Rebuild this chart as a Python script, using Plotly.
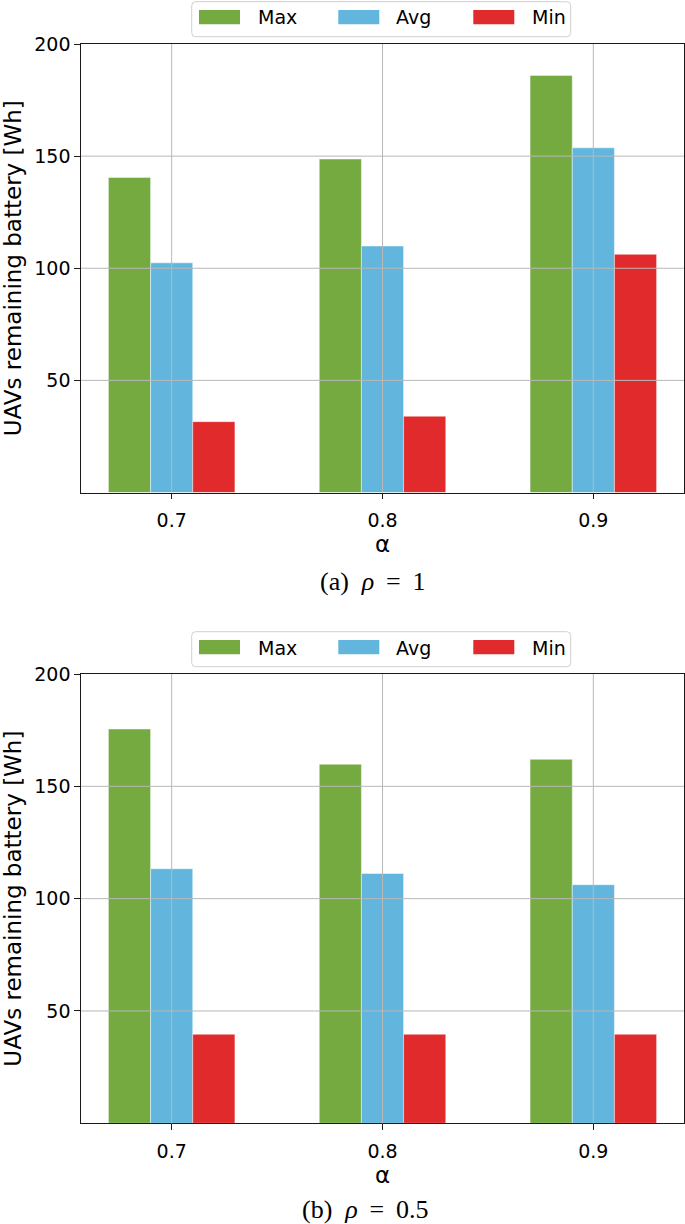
import plotly.graph_objects as go

# ---------------- data ----------------
alpha_labels = ["0.7", "0.8", "0.9"]
positions = [0, 1, 2]
series_names = ["Max", "Avg", "Min"]
series_colors = ["#75aa41", "#62b6dd", "#e02a2b"]

rho1_max = [140.5, 148.7, 186.0]
rho1_avg = [102.4, 109.9, 153.7]
rho1_min = [31.6, 34.0, 106.2]

rho05_max = [175.5, 159.8, 162.0]
rho05_avg = [113.3, 111.2, 106.2]
rho05_min = [39.6, 39.6, 39.6]

y_ticks = [50, 100, 150, 200]
y_grid = [50, 100, 150]
captions = ["(a)\u00a0\u00a0<i>ρ</i>\u00a0\u2009=\u00a0\u20091",
            "(b)\u00a0\u00a0<i>ρ</i>\u00a0\u2009=\u00a0\u20090.5"]
x_title = "α"
y_title = "UAVs remaining battery [Wh]"

# ---------------- layout helpers ----------------
W, H = 685, 1224


def fx(p):
    return p / W


def fy(p):
    return 1 - p / H


panels = [
    dict(series=[rho1_max, rho1_avg, rho1_min], top=44.0, bottom=492.5, dy=0,
         cap_x=372.5, cap_y=581),
    dict(series=[rho05_max, rho05_avg, rho05_min], top=674.0, bottom=1123.3, dy=630,
         cap_x=365.0, cap_y=1209),
]
AX_L, AX_R = 81.0, 684.0
DARK = "#1a1a1a"
GRID = "#b8b8b8"

fig = go.Figure()
shapes = []
annotations = []

for i, pan in enumerate(panels):
    xa = "x" if i == 0 else "x2"
    ya = "y" if i == 0 else "y2"
    for name, col, vals in zip(series_names, series_colors, pan["series"]):
        fig.add_trace(go.Bar(
            x=positions, y=vals, name=name, xaxis=xa, yaxis=ya,
            marker=dict(color=col, line=dict(color="rgba(255,255,255,0.55)", width=0.8)),
            showlegend=False,
        ))
    axis_common = dict(
        ticks="outside", ticklen=5.5, tickwidth=1.2, tickcolor=DARK,
        showline=True, linecolor=DARK, linewidth=1.3, mirror=True,
        showgrid=False, zeroline=False, automargin=False,
        tickfont=dict(family="DejaVu Sans", size=19, color="black"),
    )
    xdict = dict(axis_common,
                 domain=[fx(AX_L), fx(AX_R)], range=[-0.43, 2.43],
                 tickmode="array", tickvals=positions, ticktext=alpha_labels,
                 ticklabelstandoff=5,
                 anchor=ya,
                 title=dict(text=x_title, standoff=3,
                            font=dict(family="DejaVu Sans", size=23, color="black")))
    ydict = dict(axis_common,
                 domain=[fy(pan["bottom"]), fy(pan["top"])], range=[0, 200],
                 tickmode="array", tickvals=y_ticks,
                 anchor=xa,
                 title=dict(text=y_title, standoff=6,
                            font=dict(family="DejaVu Sans", size=23, color="black")))
    if i == 0:
        fig.update_layout(xaxis=xdict, yaxis=ydict)
    else:
        fig.update_layout(xaxis2=xdict, yaxis2=ydict)

    # grid lines drawn above the bars (matplotlib style)
    for v in y_grid:
        shapes.append(dict(type="line", xref=f"{xa} domain", yref=ya, x0=0, x1=1,
                           y0=v, y1=v, line=dict(color=GRID, width=1), layer="above"))
    for p in positions:
        shapes.append(dict(type="line", xref=xa, yref=f"{ya} domain", x0=p, x1=p,
                           y0=0, y1=1, line=dict(color=GRID, width=1), layer="above"))

    # legend (matplotlib-like, horizontal with wide patches)
    dy = pan["dy"]
    bx0, bx1, by0, by1, r = 191.7, 570.7, 1.7 + dy, 36.7 + dy, 4
    path = (f"M {fx(bx0 + r)},{fy(by0)} L {fx(bx1 - r)},{fy(by0)} "
            f"Q {fx(bx1)},{fy(by0)} {fx(bx1)},{fy(by0 + r)} "
            f"L {fx(bx1)},{fy(by1 - r)} Q {fx(bx1)},{fy(by1)} {fx(bx1 - r)},{fy(by1)} "
            f"L {fx(bx0 + r)},{fy(by1)} Q {fx(bx0)},{fy(by1)} {fx(bx0)},{fy(by1 - r)} "
            f"L {fx(bx0)},{fy(by0 + r)} Q {fx(bx0)},{fy(by0)} {fx(bx0 + r)},{fy(by0)} Z")
    shapes.append(dict(type="path", xref="paper", yref="paper", path=path,
                       fillcolor="rgba(255,255,255,0.85)",
                       line=dict(color="#d0d0d0", width=1), layer="above"))
    patch_x = [199.0, 338.3, 473.3]
    text_x = [257.3, 395.0, 530.7]
    for name, col, px0, tx in zip(series_names, series_colors, patch_x, text_x):
        shapes.append(dict(type="rect", xref="paper", yref="paper",
                           x0=fx(px0), x1=fx(px0 + 41), y0=fy(24.3 + dy), y1=fy(10 + dy),
                           fillcolor=col, line=dict(width=0), layer="above"))
        annotations.append(dict(text=name, xref="paper", yref="paper",
                                x=fx(tx - 1), y=fy(17.5 + dy), xanchor="left", yanchor="middle",
                                showarrow=False,
                                font=dict(family="DejaVu Sans", size=19, color="black")))

    annotations.append(dict(text=captions[i], xref="paper", yref="paper",
                            x=fx(pan["cap_x"]), y=fy(pan["cap_y"]),
                            xanchor="center", yanchor="middle", showarrow=False,
                            font=dict(family="Liberation Serif", size=26, color="black")))

fig.update_layout(
    width=W, height=H, autosize=False,
    margin=dict(l=0, r=0, t=0, b=0),
    paper_bgcolor="white", plot_bgcolor="white",
    barmode="group", bargap=0.4, bargroupgap=0,
    shapes=shapes, annotations=annotations,
    showlegend=False,
)

fig.write_html(
    "out.html",
    config={"displayModeBar": False},
    post_script="document.body.style.margin='0';document.body.style.overflow='hidden';",
)
